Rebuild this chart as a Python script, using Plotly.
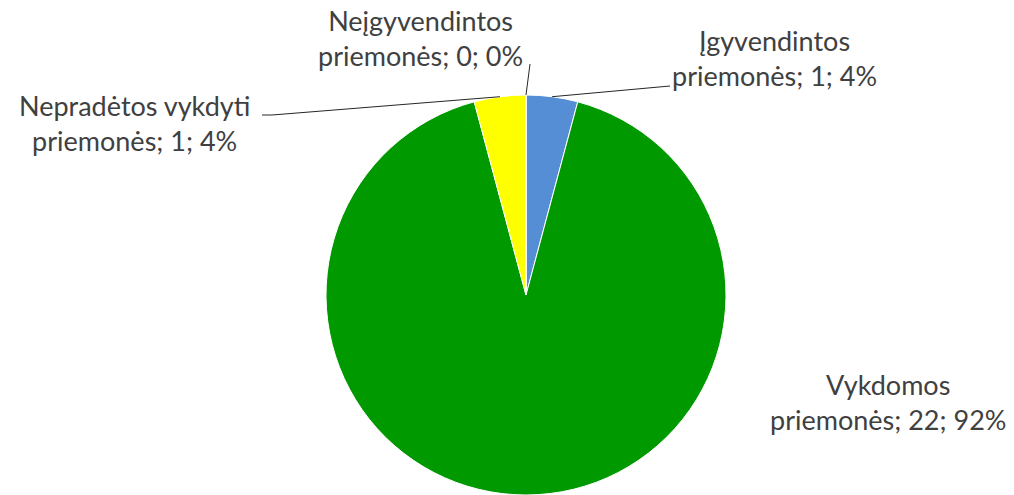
import math
import plotly.graph_objects as go

categories = ["Įgyvendintos priemonės", "Vykdomos priemonės", "Nepradėtos vykdyti priemonės", "Neįgyvendintos priemonės"]
values = [1, 22, 1, 0]
label_lines = [
    ["Įgyvendintos", "priemonės; 1; 4%"],
    ["Vykdomos", "priemonės; 22; 92%"],
    ["Nepradėtos vykdyti", "priemonės; 1; 4%"],
    ["Neįgyvendintos", "priemonės; 0; 0%"],
]
colors = ["#558ED5", "#009900", "#FFFF00", "#C0504D"]

W, H = 1014, 495
cx, cy, R = 526, 295, 200

fig = go.Figure(go.Pie(
    labels=categories, values=values, sort=False, direction="clockwise", rotation=0,
    marker=dict(colors=colors, line=dict(color="white", width=1)),
    textinfo="none", hoverinfo="label+value+percent", showlegend=False,
    domain=dict(x=[(cx - R) / W, (cx + R) / W], y=[1 - (cy + R) / H, 1 - (cy - R) / H]),
))

total = sum(values)
def px(x, y):
    return x / W, 1 - y / H

# anchor points on pie edge at each slice's mid-angle
anchors = []
cum = 0
for v in values:
    mid = (cum + v / 2) / total * 2 * math.pi
    anchors.append((cx + R * math.sin(mid), cy - R * math.cos(mid)))
    cum += v

font = dict(family="Lato, 'Liberation Sans', sans-serif", size=27, color="#404040")
# label centres (pixels)
label_pos = [(774, 58), (888, 402), (134, 123), (420, 38)]
for (x, y), lines in zip(label_pos, label_lines):
    ax_, ay_ = px(x, y)
    fig.add_annotation(x=ax_, y=ay_, xref="paper", yref="paper", text="<br>".join(lines),
                       showarrow=False, font=font, align="center", xanchor="center", yanchor="middle")

line = dict(color="#262626", width=1)
def seg(p, q):
    x0, y0 = px(*p); x1, y1 = px(*q)
    fig.add_shape(type="line", xref="paper", yref="paper", x0=x0, y0=y0, x1=x1, y1=y1, line=line)
a0 = anchors[0]; a2 = anchors[2]
seg(a0, (670, 86))
seg(a2, (272, 115))
seg((272, 115), (262, 115))
seg((cx, cy - R), (530, 64))

fig.update_layout(width=W, height=H, margin=dict(l=0, r=0, t=0, b=0),
                  paper_bgcolor="white", plot_bgcolor="white")
fig.write_html("out.html", config={"displayModeBar": False},
               post_script="document.body.style.margin='0';")
